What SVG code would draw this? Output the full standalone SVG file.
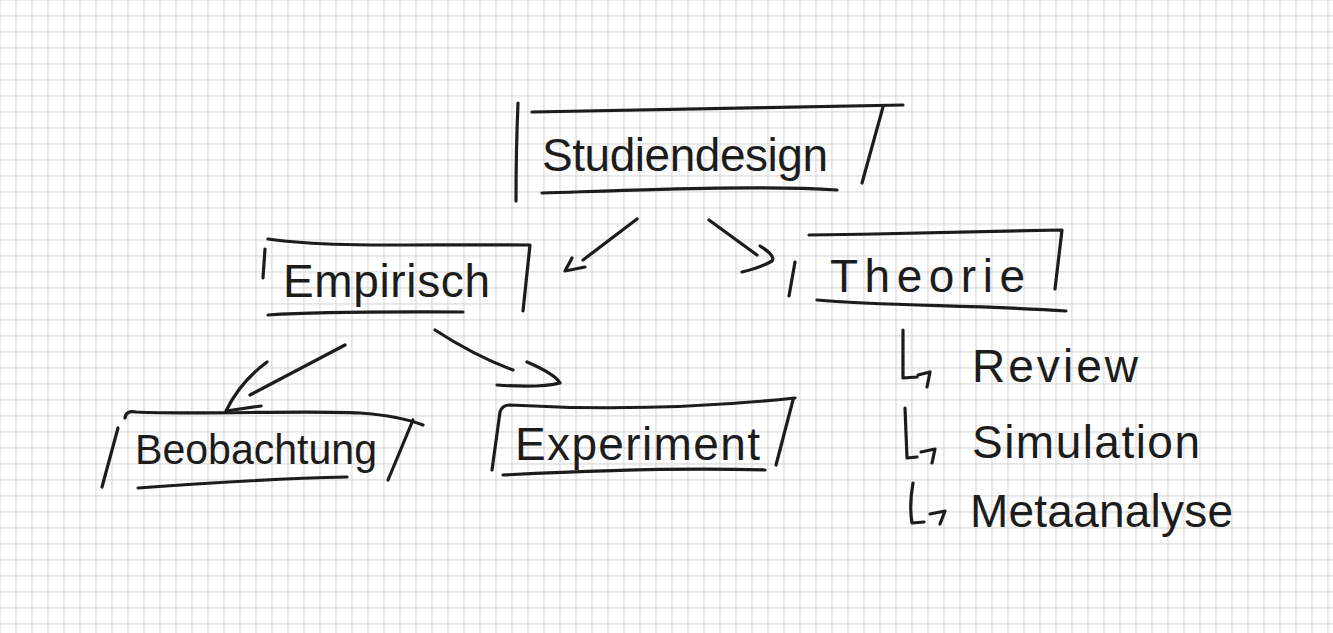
<svg xmlns="http://www.w3.org/2000/svg" width="1333" height="633" viewBox="0 0 1333 633">
<style>
.ink{fill:none;stroke:#1c1c1c;stroke-width:3.2;stroke-linecap:round;stroke-linejoin:round}
.t{font-family:"Liberation Sans",Arial,sans-serif;font-size:46px;fill:#1c1c1c}
</style>
<defs>
<pattern id="grid" width="16" height="16" patternUnits="userSpaceOnUse" x="-0.7" y="-0.7">
<rect width="16" height="16" fill="#fff"/>
<rect width="1.4" height="16" fill="#dcdcdc"/>
<rect width="16" height="1.4" fill="#dcdcdc"/>
</pattern>
</defs>
<rect width="1333" height="633" fill="url(#grid)"/>

<g id="studiendesign">
<path class="ink" d="M518,103 Q516,150 516,201"/>
<path class="ink" d="M532,112 C650,109 780,108 903,105"/>
<path class="ink" d="M883,107 L862,183"/>
<path class="ink" d="M542,193 C640,190 760,185 837,190"/>
<text class="t" x="542" y="171" textLength="286" lengthAdjust="spacing">Studiendesign</text>
</g>

<g id="empirisch">
<path class="ink" d="M265,249 L263,278"/>
<path class="ink" d="M268,239 C330,248 420,244 530,245 L523,311"/>
<path class="ink" d="M268,315 C330,311 400,312 463,312"/>
<text class="t" x="283" y="297" textLength="207" lengthAdjust="spacing">Empirisch</text>
</g>

<g id="theorie">
<path class="ink" d="M795,262 L789,296"/>
<path class="ink" d="M809,235 C900,234 1000,231 1062,230 L1055,289"/>
<path class="ink" d="M817,300 C880,306 980,305 1066,311"/>
<text class="t" x="830" y="292" textLength="195" lengthAdjust="spacing">Theorie</text>
</g>

<g id="beobachtung">
<path class="ink" d="M125,418 Q126,410 136,412 C200,415 300,410 360,413 Q400,416 423,425"/>
<path class="ink" d="M118,428 L102,487"/>
<path class="ink" d="M413,420 L388,480"/>
<path class="ink" d="M138,488 C220,482 300,478 347,477"/>
<text class="t" x="135" y="464" style="font-size:42px" textLength="242" lengthAdjust="spacingAndGlyphs">Beobachtung</text>
</g>

<g id="experiment">
<path class="ink" d="M492,470 L500,412 Q502,405 510,405 C600,410 700,408 795,398"/>
<path class="ink" d="M793,400 L776,465"/>
<path class="ink" d="M503,475 C600,470 700,468 765,470"/>
<text class="t" x="515" y="460" textLength="245" lengthAdjust="spacing">Experiment</text>
</g>

<g id="review">
<path class="ink" d="M903,330 L903,378 L917,377 M918,375 L930,372 L927,387"/>
<text class="t" x="972" y="382" textLength="166" lengthAdjust="spacing">Review</text>
</g>

<g id="simulation">
<path class="ink" d="M905,408 L907,458 L917,457 M921,452 L935,449 L932,463"/>
<text class="t" x="972" y="458" textLength="228" lengthAdjust="spacing">Simulation</text>
</g>

<g id="metaanalyse">
<path class="ink" d="M913,483 Q909,505 912,523 L924,522 M930,514 L945,511 L940,524"/>
<text class="t" x="970" y="527" textLength="263" lengthAdjust="spacing">Metaanalyse</text>
</g>

<g id="connectors">
<path class="ink" d="M637,219 L583,260"/>
<path class="ink" d="M572,258 L565,271 L585,267"/>
<path class="ink" d="M709,220 L757,255"/>
<path class="ink" d="M760,246 Q776,256 772,261 Q760,268 742,272"/>
<path class="ink" d="M345,345 L250,395"/>
<path class="ink" d="M267,362 Q240,382 226,411 L261,406"/>
<path class="ink" d="M435,330 Q475,356 513,370"/>
<path class="ink" d="M527,362 Q555,374 560,383 Q540,388 497,385"/>
</g>
</svg>
